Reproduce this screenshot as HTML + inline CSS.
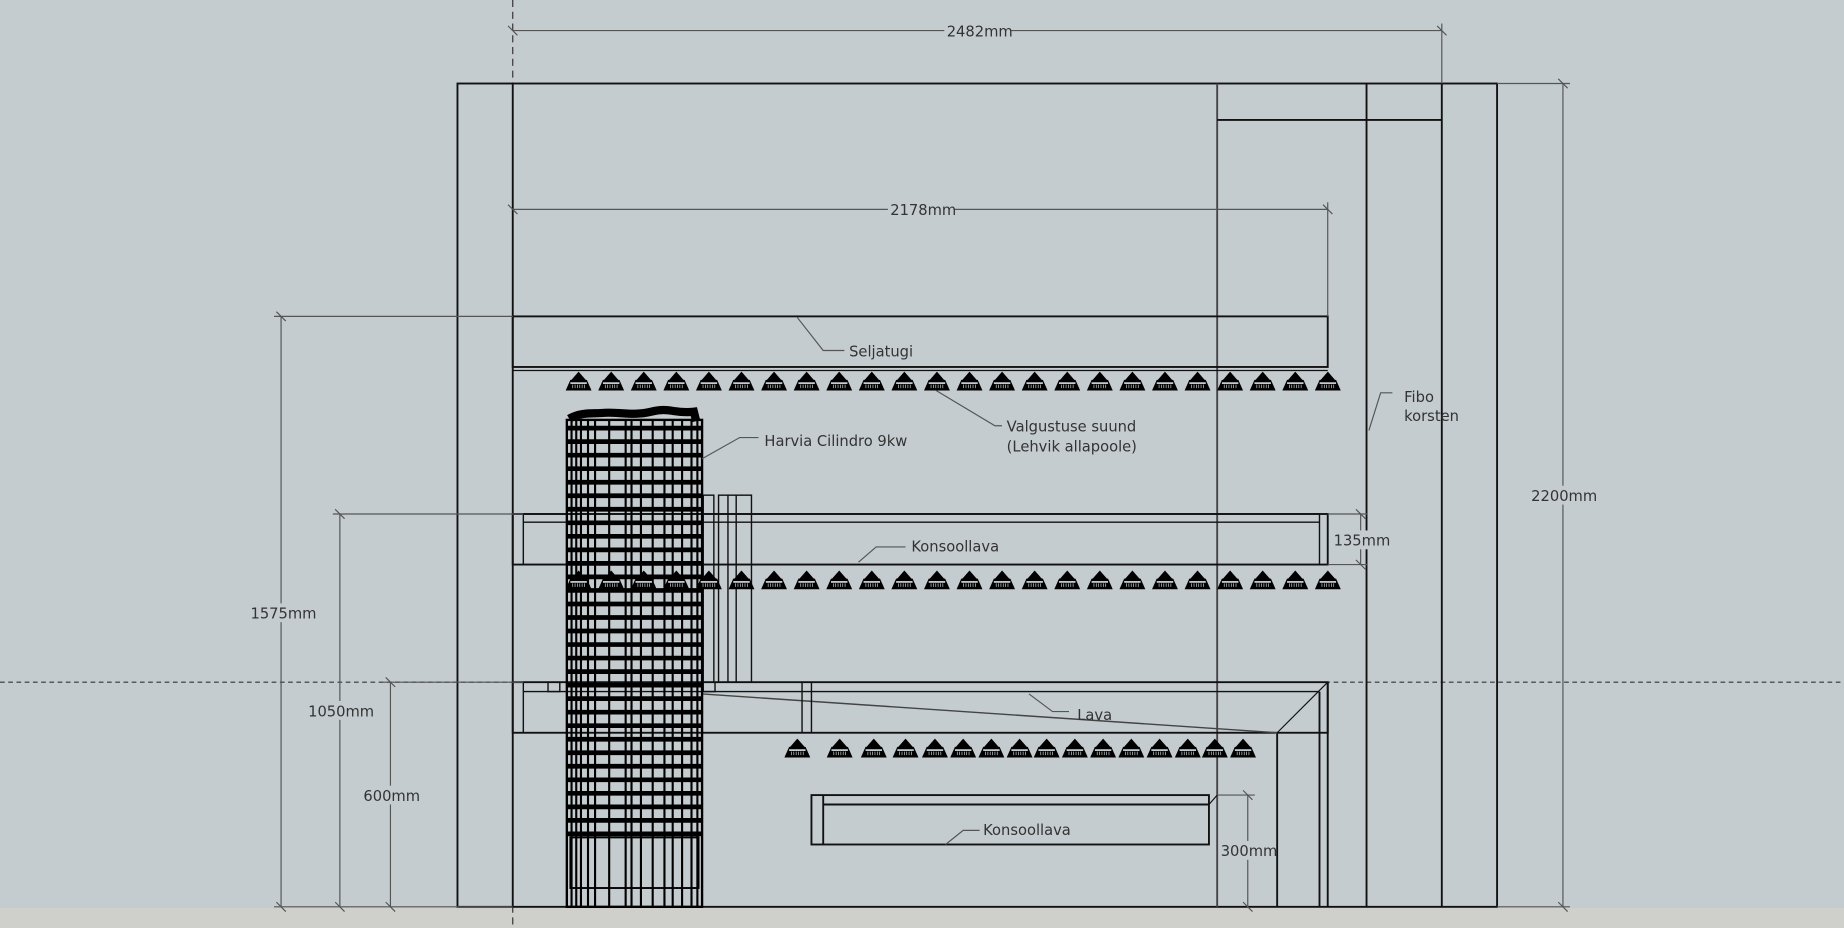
<!DOCTYPE html>
<html><head><meta charset="utf-8"><style>
html,body{margin:0;padding:0;background:#c5ccd0;}
svg{display:block}
text{font-family:"DejaVu Sans","Liberation Sans",sans-serif;font-size:12.5px;fill:#333;}
</style></head><body>
<svg id="s" width="1844" height="928" viewBox="0 0 1568 789" preserveAspectRatio="none" xmlns="http://www.w3.org/2000/svg">
<rect x="0" y="0" width="1568" height="789" fill="#c5ccd0"/>
<rect x="0" y="772" width="1568" height="17" fill="#cfcfcb"/>
<line x1="436" y1="0" x2="436" y2="789" stroke="#333" stroke-width="1" stroke-dasharray="6,4"/>
<line x1="0" y1="580" x2="1568" y2="580" stroke="#333" stroke-width="1" stroke-dasharray="4,3"/>
<g stroke="#111" stroke-width="1.6" fill="none">
<rect x="389" y="71" width="884" height="700"/>
<line x1="436" y1="71" x2="436" y2="771"/>
<line x1="1035" y1="71" x2="1035" y2="771" stroke="#444"/>
<line x1="1035" y1="102" x2="1226" y2="102"/>
<line x1="1162" y1="71" x2="1162" y2="771"/>
<line x1="1226" y1="71" x2="1226" y2="771"/>
<rect x="436" y="269" width="693" height="43"/>
<line x1="436" y1="315" x2="1129" y2="315" stroke-width="1"/>
<rect x="436" y="437" width="693" height="43"/>
<rect x="445" y="437" width="677" height="43" stroke-width="1.2"/>
<line x1="445" y1="444" x2="1122" y2="444" stroke-width="1.2"/>
<rect x="436" y="580" width="693" height="43"/>
<line x1="445" y1="588" x2="1122" y2="588" stroke-width="1.2"/>
<line x1="445" y1="580" x2="445" y2="623" stroke-width="1.2"/>
<line x1="1086" y1="623" x2="1086" y2="771"/>
<line x1="1122" y1="588" x2="1122" y2="771"/>
<line x1="1129" y1="580" x2="1129" y2="771"/>
<line x1="1086" y1="623" x2="1129" y2="580" stroke-width="1"/>
<line x1="597" y1="590" x2="1086" y2="623" stroke="#444" stroke-width="1.2"/>
<rect x="682" y="580" width="8" height="43" stroke-width="1.2"/>
<rect x="598" y="580" width="10" height="8" stroke-width="1.2"/>
<rect x="466" y="580" width="10" height="8" stroke-width="1.2"/>
<rect x="690" y="676" width="338" height="42"/>
<line x1="700" y1="684" x2="1028" y2="684"/>
<line x1="700" y1="676" x2="700" y2="718"/>
<line x1="1028" y1="684" x2="1035" y2="676" stroke-width="1"/>
<rect x="598" y="421" width="9" height="159" stroke-width="1.2"/>
<rect x="611" y="421" width="28" height="159" stroke-width="1.2"/>
<line x1="619" y1="421" x2="619" y2="580" stroke-width="1.2"/>
<line x1="626" y1="421" x2="626" y2="580" stroke-width="1.2"/>
</g>
<g id="heater" stroke="#000" fill="none"></g>
<g id="bulbs" fill="#000"></g>
<g stroke="#555" stroke-width="1" fill="none">
<line x1="436" y1="26" x2="1226" y2="26"/>
<line x1="1226" y1="20" x2="1226" y2="71"/>
<line x1="436" y1="178" x2="1129" y2="178"/>
<line x1="1129" y1="172" x2="1129" y2="269"/>
<line x1="239" y1="269" x2="239" y2="771"/>
<line x1="233" y1="269" x2="436" y2="269"/>
<line x1="289" y1="437" x2="289" y2="771"/>
<line x1="283" y1="437" x2="445" y2="437"/>
<line x1="332" y1="580" x2="332" y2="771"/>
<line x1="326" y1="580" x2="445" y2="580"/>
<line x1="1329" y1="71" x2="1329" y2="771"/>
<line x1="1273" y1="71" x2="1335" y2="71"/>
<line x1="1273" y1="771" x2="1335" y2="771"/>
<line x1="1157" y1="437" x2="1157" y2="480"/>
<line x1="1129" y1="437" x2="1163" y2="437"/>
<line x1="1129" y1="480" x2="1163" y2="480"/>
<line x1="1061" y1="676" x2="1061" y2="771"/>
<line x1="1035" y1="676" x2="1067" y2="676"/>
<line x1="233" y1="771" x2="436" y2="771"/>
<path d="M432 22l8 8M1222 22l8 8M432 174l8 8M1125 174l8 8M235 265l8 8M235 767l8 8M285 433l8 8M285 767l8 8M328 576l8 8M328 767l8 8M1325 67l8 8M1325 767l8 8M1153 433l8 8M1153 476l8 8M1057 672l8 8M1057 767l8 8"/>
<path d="M678 270l22 28h18M796 332l50 30h6M597 390l32-18h16M730 478l15-13h25M875 590l20 15h14M804 718l15-12h14M1164 366l10-32h10"/>
</g>
<g>
<rect x="803" y="18" width="56" height="16" fill="#c5ccd0"/><text x="805" y="31">2482mm</text>
<rect x="755" y="170" width="56" height="16" fill="#c5ccd0"/><text x="757" y="183">2178mm</text>
<rect x="211" y="513" width="56" height="16" fill="#c5ccd0"/><text x="213" y="526">1575mm</text>
<rect x="261" y="596" width="56" height="16" fill="#c5ccd0"/><text x="262" y="609">1050mm</text>
<rect x="307" y="668" width="50" height="16" fill="#c5ccd0"/><text x="309" y="681">600mm</text>
<rect x="1301" y="413" width="56" height="16" fill="#c5ccd0"/><text x="1302" y="426">2200mm</text>
<rect x="1132" y="451" width="48" height="16" fill="#c5ccd0"/><text x="1134" y="464">135mm</text>
<rect x="1037" y="715" width="48" height="16" fill="#c5ccd0"/><text x="1038" y="728">300mm</text>
<text x="722" y="303">Seljatugi</text>
<text x="856" y="367">Valgustuse suund</text>
<text x="856" y="384">(Lehvik allapoole)</text>
<text x="650" y="379">Harvia Cilindro 9kw</text>
<text x="775" y="469">Konsoollava</text>
<text x="916" y="612">Lava</text>
<text x="836" y="710">Konsoollava</text>
<text x="1194" y="342">Fibo</text>
<text x="1194" y="358">korsten</text>
</g>
<script>
var NS="http://www.w3.org/2000/svg";
function el(p,t,a){var e=document.createElementNS(NS,t);for(var k in a)e.setAttribute(k,a[k]);p.appendChild(e);return e;}
var b=document.getElementById("bulbs");
function bulb(x,y){
 el(b,"path",{d:"M"+(x-7)+" "+(y+8)+"L"+x+" "+(y)+"L"+(x+7)+" "+(y+8)+"Z"});
 el(b,"path",{d:"M"+(x-11)+" "+(y+16)+"L"+(x-7)+" "+(y+7)+"L"+(x+7)+" "+(y+7)+"L"+(x+11)+" "+(y+16)+"Z"});
 el(b,"rect",{x:x-7,y:y+9,width:14,height:1.5,fill:"#c5ccd0"});
 for(var j=-5;j<=5;j+=2)el(b,"line",{x1:x+j,y1:y+11,x2:x+j,y2:y+14,stroke:"#c5ccd0","stroke-width":0.6});
}
for(var i=0;i<24;i++){var x=492+i*27.7;bulb(x,316);bulb(x,485);}
[678,714,743,770,795,819,843,867,890,914,938,962,986,1010,1033,1057].forEach(function(x){bulb(x,628);});
var h=document.getElementById("heater");
el(h,"rect",{x:482,y:357,width:115,height:414,"stroke-width":2});
for(var y=364;y<712;y+=11.5){el(h,"line",{x1:482,y1:y,x2:597,y2:y,"stroke-width":4});}
[486,490,494,500,506,518,532,537,545,555,565,572,580,588,593].forEach(function(x){el(h,"line",{x1:x,y1:357,x2:x,y2:771,"stroke-width":1.8});});
el(h,"rect",{x:485,y:712,width:109,height:43,"stroke-width":1.6});
el(h,"path",{d:"M484 356c10-6 20-4 30-5s25 3 40-1 20 2 36 0l2 8",fill:"none","stroke-width":7});
</script>
</svg>
</body></html>
